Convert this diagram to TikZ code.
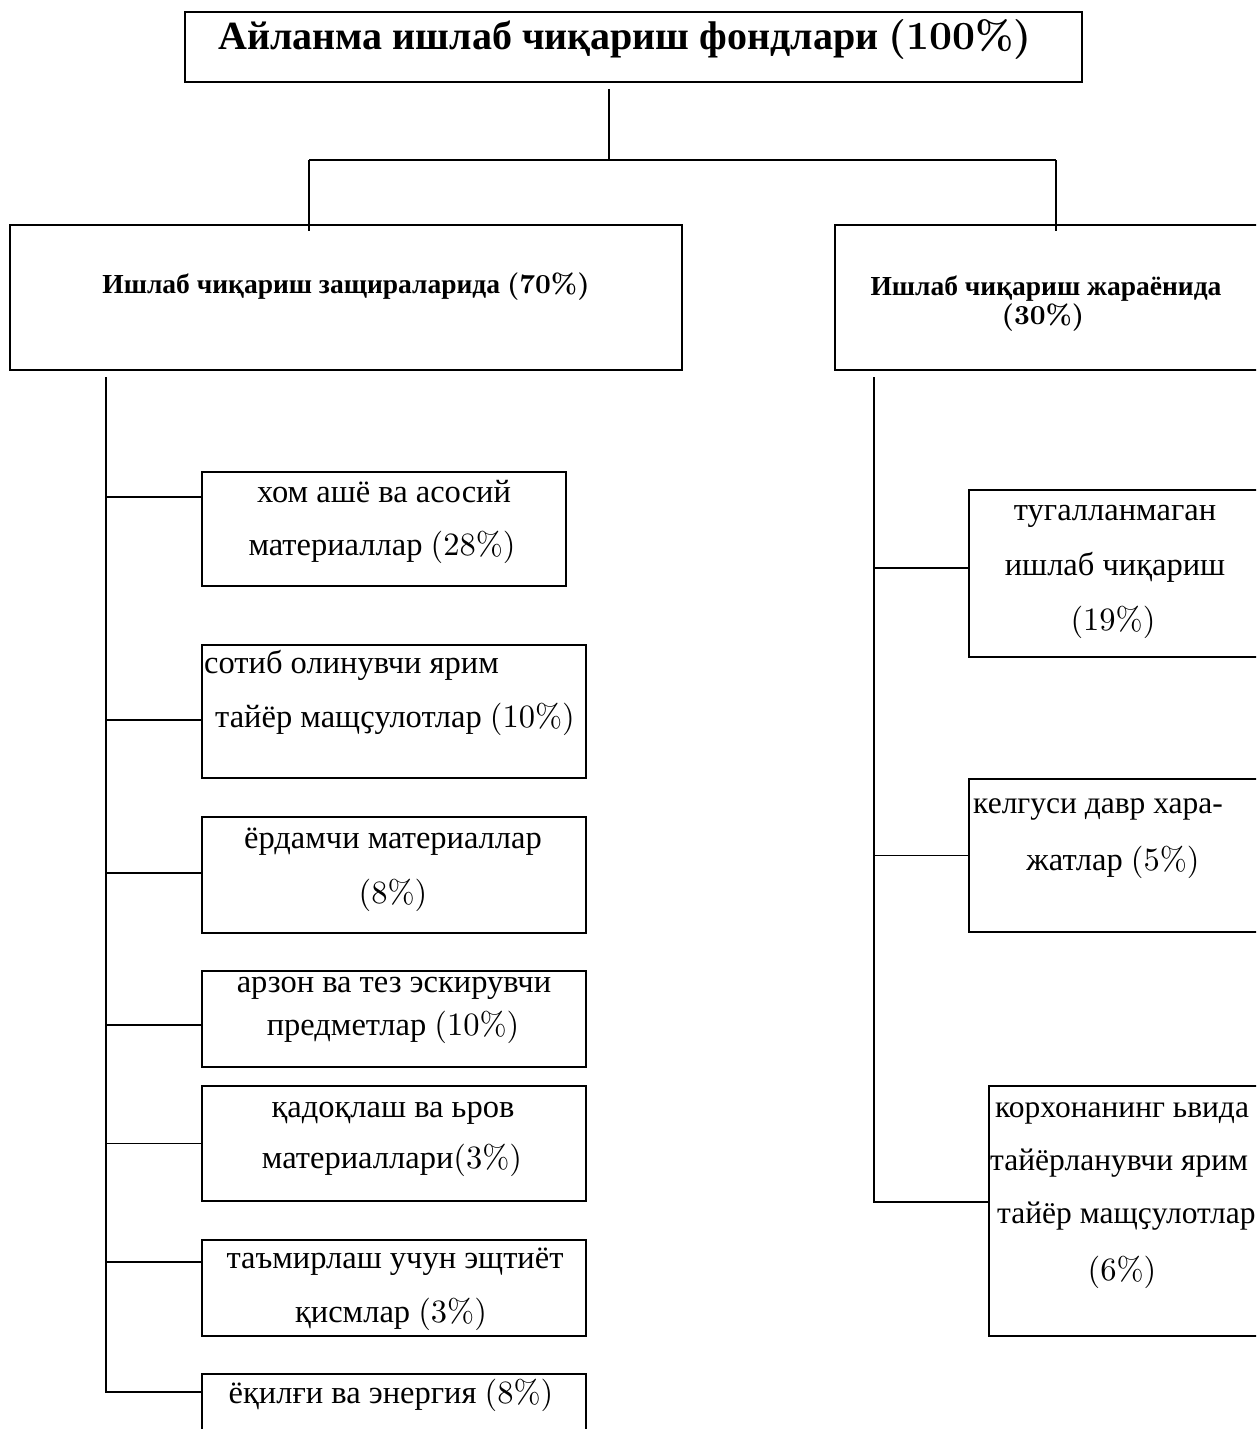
\documentclass[tikz,border=0pt]{standalone}
\usepackage{fontspec}
\newfontfamily\cyr[WordSpace=1.4]{Liberation Serif}
\newfontfamily\cyb{Liberation Serif}
\newfontfamily\pcf{lmroman10-regular.otf}[BoldFont=lmroman10-bold.otf]
\newcommand\pct[1]{{\pcf #1}}
\tikzset{
  box/.style={draw, line width=1.6pt, rectangle, inner sep=0pt},
  conn/.style={line width=1.6pt},
  txt/.style={inner sep=0pt, font=\cyr\fontsize{32.5}{38}\selectfont},
  txtn/.style={inner sep=0pt, font=\cyb\fontsize{31.5}{38}\selectfont},
  head/.style={inner sep=0pt, font=\cyb\bfseries\fontsize{27.5}{33}\selectfont},
  ttl/.style={inner sep=0pt, font=\cyb\bfseries\fontsize{40}{48}\selectfont},
}
\begin{document}
\begin{tikzpicture}[x=1pt,y=-1pt]
\clip (0,0) rectangle (1256,1429);
\fill[white] (0,0) rectangle (1256,1429);
% boxes
\node[box, minimum width=897pt, minimum height=70pt] (top) at (633.5,47) {};
\node[box, minimum width=672pt, minimum height=145pt] (L) at (346,297.5) {};
\node[box, minimum width=435pt, minimum height=145pt] (R) at (1052.5,297.5) {};
\node[box, minimum width=364pt, minimum height=114pt] (b1) at (384,529) {};
\node[box, minimum width=384pt, minimum height=133pt] (b2) at (394,711.5) {};
\node[box, minimum width=384pt, minimum height=116pt] (b3) at (394,875) {};
\node[box, minimum width=384pt, minimum height=96pt] (b4) at (394,1019) {};
\node[box, minimum width=384pt, minimum height=115pt] (b5) at (394,1143.5) {};
\node[box, minimum width=384pt, minimum height=96pt] (b6) at (394,1288) {};
\node[box, minimum width=384pt, minimum height=76pt] (b7) at (394,1412) {};
\node[box, minimum width=301pt, minimum height=167pt] (r1) at (1119.5,573.5) {};
\node[box, minimum width=301pt, minimum height=153pt] (r2) at (1119.5,855.5) {};
\node[box, minimum width=281pt, minimum height=250pt] (r3) at (1129.5,1211) {};
% texts
\node[ttl, anchor=base] (tt) at (625,49) {Айланма ишлаб чиқариш фондлари \pct{(100\%)}};
\node[head, anchor=base] (tL) at (346,293) {Ишлаб чиқариш защираларида \pct{(70\%)}};
\node[head, anchor=base] (tR1) at (1046,295) {Ишлаб чиқариш жараёнида};
\node[head, anchor=base] (tR2) at (1043,324) {\pct{(30\%)}};
\node[txt, anchor=base] (t1a) at (384,502) {хом ашё ва асосий};
\node[txt, anchor=base] (t1b) at (382,555) {материаллар \pct{(28\%)}};
\node[txt, anchor=base west] (t2a) at (204,673) {сотиб олинувчи ярим};
\node[txt, anchor=base west] (t2b) at (215,727) {тайёр мащҫулотлар \pct{(10\%)}};
\node[txt, anchor=base] (t3a) at (393,848) {ёрдамчи материаллар};
\node[txt, anchor=base] (t3b) at (393,903) {\pct{(8\%)}};
\node[txt, anchor=base] (t4a) at (394,992) {арзон ва тез эскирувчи};
\node[txt, anchor=base] (t4b) at (393,1035) {предметлар \pct{(10\%)}};
\node[txt, anchor=base] (t5a) at (393,1117) {қадоқлаш ва ьров};
\node[txt, anchor=base] (t5b) at (392,1168) {материаллари\pct{(3\%)}};
\node[txt, anchor=base] (t6a) at (395,1268) {таъмирлаш учун эщтиёт};
\node[txt, anchor=base] (t6b) at (391,1322) {қисмлар \pct{(3\%)}};
\node[txt, anchor=base] (t7a) at (391,1403) {ёқилғи ва энергия \pct{(8\%)}};
\node[txt, anchor=base] (r1a) at (1115,520) {тугалланмаган};
\node[txt, anchor=base] (r1b) at (1115,575) {ишлаб чиқариш};
\node[txt, anchor=base] (r1c) at (1113,630) {\pct{(19\%)}};
\node[txtn, anchor=base west] (r2a) at (973,813) {келгуси давр хара-};
\node[txt, anchor=base] (r2b) at (1113,870) {жатлар \pct{(5\%)}};
\node[txtn, anchor=base west] (r3a) at (995,1117) {корхонанинг ьвида};
\node[txtn, anchor=base west] (r3b) at (990,1170) {тайёрланувчи ярим};
\node[txtn, anchor=base west] (r3c) at (997,1223) {тайёр мащҫулотлар};
\node[txt, anchor=base] (r3d) at (1122,1280) {\pct{(6\%)}};
% connectors
\coordinate (jt) at (609,160);
\coordinate (jl) at (309,160);
\coordinate (jr) at (1056,160);
\draw[conn, shorten <=6pt] (jt |- top.south) -- (jt);
\draw[conn] (jl) -- (jr);
\draw[conn, shorten >=-7pt] (jl) -- (jl |- L.north);
\draw[conn, shorten >=-7pt] (jr) -- (jr |- R.north);
\coordinate (lt) at (106,377);
\coordinate (rt) at (874,377);
\draw[conn] (lt) |- ([yshift=20pt]b7.west);
\draw[conn] ([yshift=32pt]b1.west) -- ++(-96,0);
\draw[conn] ([yshift=-8.5pt]b2.west) -- ++(-96,0);
\draw[conn] ([yshift=2pt]b3.west) -- ++(-96,0);
\draw[conn] ([yshift=-6pt]b4.west) -- ++(-96,0);
\draw[conn] (b5.west) -- ++(-96,0);
\draw[conn] ([yshift=26pt]b6.west) -- ++(-96,0);
\draw[conn] (rt) |- ([yshift=9pt]r3.west);
\draw[conn] ([yshift=5.5pt]r1.west) -- ++(-95,0);
\draw[conn] (r2.west) -- ++(-95,0);
\end{tikzpicture}
\end{document}
